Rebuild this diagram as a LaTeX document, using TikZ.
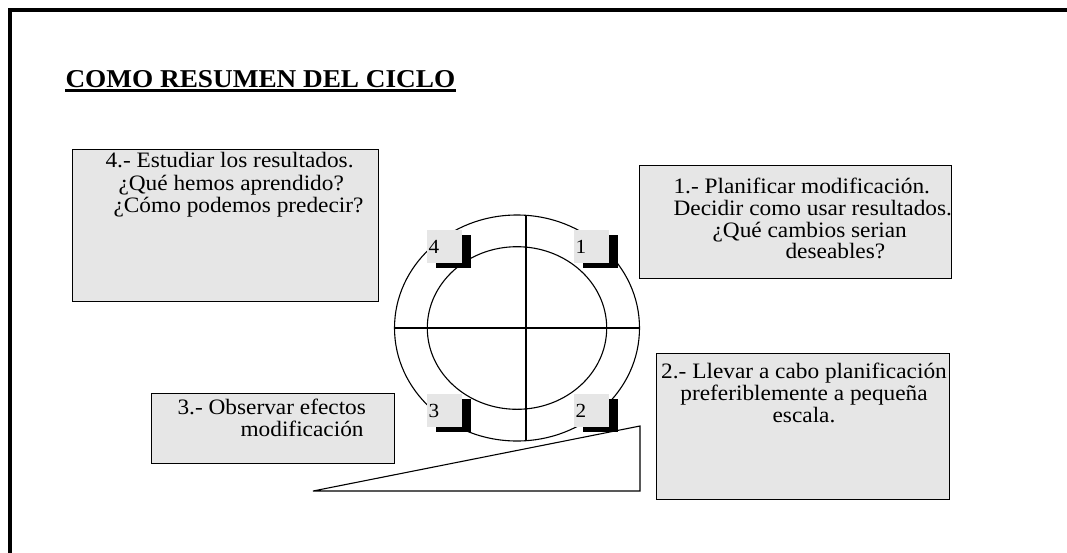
\documentclass[tikz,border=0pt]{standalone}
\usepackage{fontspec}
\setmainfont{Liberation Serif}[FakeStretch=1.06]
\usetikzlibrary{shadows}
\definecolor{panelgray}{HTML}{E6E6E6}

\begin{document}
\begin{tikzpicture}[x=1pt,y=-1pt,line width=1.1pt,
  panel/.style={draw, rectangle, fill=panelgray, anchor=north west, inner sep=0pt},
  txt/.style={anchor=north west, inner sep=0pt, align=left, font=\fontsize{22}{21.5}\selectfont},
  tag/.style={rectangle, fill=panelgray, text width=31pt, inner xsep=2pt, align=left,
    minimum height=33pt, font=\fontsize{20}{22}\selectfont,
    drop shadow={shadow xshift=9pt, shadow yshift=-5pt, fill=black, opacity=1}}]
\useasboundingbox (0,0) rectangle (1067,552);
\clip (0,0) rectangle (1067,552);

% frame and title
\draw[line width=3.3pt] (10,560) -- (10,10) -- (1075,10);
\node[anchor=base west, inner sep=0pt, font=\fontsize{25.7}{30}\selectfont\bfseries] (title) at (65,87) {COMO RESUMEN DEL CICLO};
\draw[line width=3pt] ([yshift=-3.5pt]title.base west) -- ([yshift=-3.5pt]title.base east);

% cycle
\coordinate (c) at (517,328);
\draw (c) ellipse [x radius=122.5, y radius=113];
\draw (c) ellipse [x radius=89.7, y radius=81.3];
\draw (395,328) -- (640,328);
\draw (526,215) -- (526,441);
\draw (313,491) -- (640,426) -- (640,491) -- cycle;

\node[tag] (n4) at (444,246.5) {4};
\node[tag] (n1) at (591,246.5) {1};
\node[tag] (n3) at (444,410.5) {3};
\node[tag] (n2) at (591,410.5) {2};

% steps
\node[panel, minimum width=306pt, minimum height=152pt] (b4) at (72,149) {};
\node[txt] (t4) at (105,152) {\strut 4.- Estudiar los resultados.\\ \hspace*{13pt}¿Qué hemos aprendido?\\ \hspace*{8pt}¿Cómo podemos predecir?};

\node[panel, minimum width=312pt, minimum height=113pt] (b1) at (639,165) {};
\node[txt] (t1) at (673,177) {\strut 1.- Planificar modificación.\\ Decidir como usar resultados.\\ \hspace*{39pt}¿Qué cambios serian\\ \hspace*{112pt}deseables?};

\node[panel, minimum width=293pt, minimum height=146pt] (b2) at (656,353) {};
\node[txt, anchor=north, align=center] (t2) at (804,362) {\strut 2.- Llevar a cabo planificación\\ preferiblemente a pequeña\\ escala.};

\node[panel, minimum width=243pt, minimum height=70pt] (b3) at (151,393) {};
\node[txt] (t3) at (177,398) {\strut 3.- Observar efectos\\ \hspace*{63pt}modificación};
\end{tikzpicture}
\end{document}
